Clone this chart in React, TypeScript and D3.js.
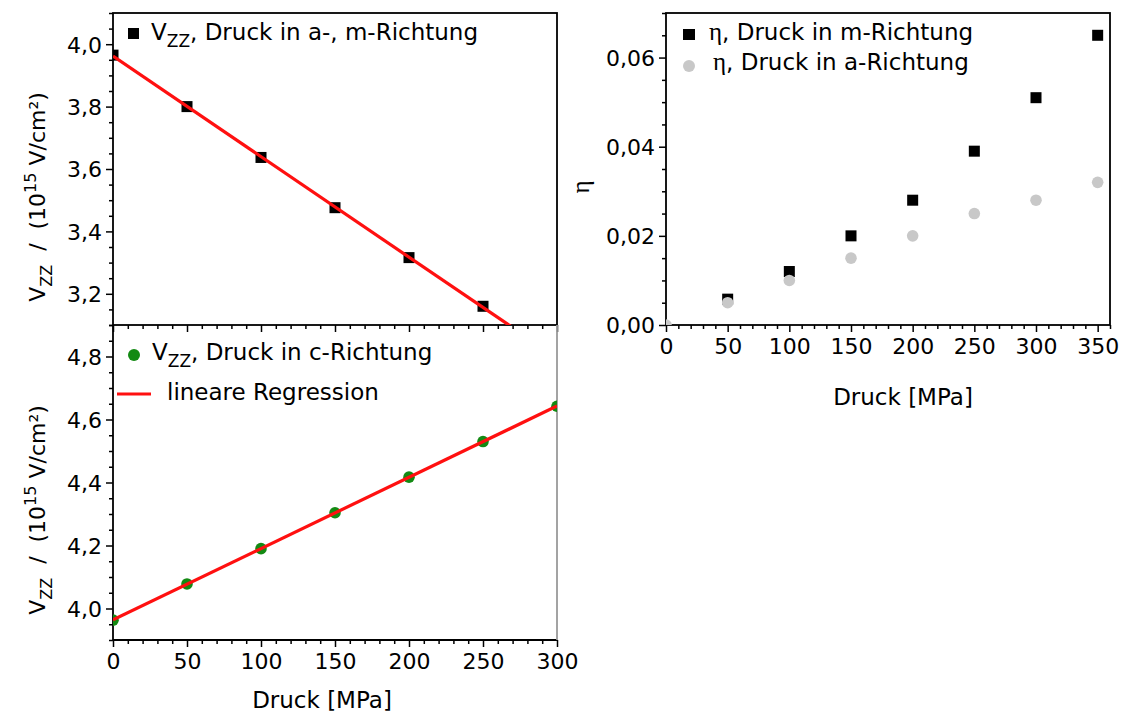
import React, { useRef, useEffect } from 'react';
import * as d3 from 'd3';

// Druck in a-, m-Richtung (Vzz)
const druckAM = [0, 50, 100, 150, 200, 250];
const vzzAM = [3.965, 3.8, 3.637, 3.476, 3.316, 3.16];
// Druck in c-Richtung (Vzz)
const druckC = [0, 50, 100, 150, 200, 250, 300];
const vzzC = [3.963, 4.078, 4.19, 4.304, 4.417, 4.53, 4.642];
// Asymmetrieparameter eta
const druckEtaM = [50, 100, 150, 200, 250, 300, 350];
const etaM = [0.0058, 0.012, 0.02, 0.028, 0.039, 0.051, 0.065];
const druckEtaA = [0, 50, 100, 150, 200, 250, 300, 350];
const etaA = [0, 0.005, 0.01, 0.015, 0.02, 0.025, 0.028, 0.032];

const leftXTicks = [0, 50, 100, 150, 200, 250, 300];
const rightXTicks = [0, 50, 100, 150, 200, 250, 300, 350];
const amYTicks = [3.2, 3.4, 3.6, 3.8, 4.0];
const cYTicks = [4.0, 4.2, 4.4, 4.6, 4.8];
const etaYTicks = [0, 0.02, 0.04, 0.06];

const FONT = '"DejaVu Sans", sans-serif';
const GREEN = '#138a13';
const RED = '#ff1010';
const GREY = '#c8c8c8';

// least squares fit -> [intercept, slope]
function linFit(xs: number[], ys: number[]): [number, number] {
  const mx = d3.mean(xs) as number;
  const my = d3.mean(ys) as number;
  let sxy = 0, sxx = 0;
  xs.forEach((x, i) => {
    sxy += (x - mx) * (ys[i] - my);
    sxx += (x - mx) * (x - mx);
  });
  const b = sxy / sxx;
  return [my - b * mx, b];
}

const comma = (f: string) => (v: any) => d3.format(f)(v).replace('.', ',');

const App = () => {
  const svgRef = useRef<SVGSVGElement>(null);

  useEffect(() => {
    const svg = d3.select(svgRef.current);
    svg.selectAll('*').remove();

    const xLeft = d3.scaleLinear().domain([0, 300]).range([113, 557]);
    const yAM = d3.scaleLinear().domain([3.1, 4.1]).range([325, 13]);
    const yC = d3.scaleLinear().domain([3.9, 4.9]).range([640, 325]);
    const xRight = d3.scaleLinear().domain([0, 360]).range([666, 1110]);
    const yEta = d3.scaleLinear().domain([0, 0.07]).range([325, 13]);

    const defs = svg.append('defs');
    const clip = (id: string, x: any, y: any) => {
      defs.append('clipPath').attr('id', id)
        .append('rect')
        .attr('x', x.range()[0]).attr('y', y.range()[1])
        .attr('width', x.range()[1] - x.range()[0])
        .attr('height', y.range()[0] - y.range()[1]);
    };
    clip('clipAM', xLeft, yAM);
    clip('clipC', xLeft, yC);
    clip('clipEta', xRight, yEta);

    const minorOf = (scale: any, n: number, major: number[]) =>
      scale.ticks(n).filter((t: number) => !major.some((m) => Math.abs(m - t) < 1e-9));

    const styleAxis = (g: any) => {
      g.selectAll('.tick line').attr('stroke', '#000').attr('stroke-width', 1.5);
      g.selectAll('.tick text').attr('fill', '#000').style('font-family', FONT).style('font-size', '22px');
      g.select('.domain').remove();
    };

    const yAxis = (scale: any, x: number, major: number[], n: number, fmt: any, labels = true) => {
      const g = svg.append('g').attr('transform', `translate(${x},0)`);
      g.call(d3.axisLeft(scale).tickValues(minorOf(scale, n, major)).tickSize(4).tickFormat(() => ''));
      styleAxis(g);
      const g2 = svg.append('g').attr('transform', `translate(${x},0)`);
      g2.call(d3.axisLeft(scale).tickValues(major).tickSize(7).tickPadding(4).tickFormat(labels ? fmt : () => ''));
      styleAxis(g2);
      g2.selectAll('.tick text').attr('dy', '0.36em');
    };

    const xAxis = (scale: any, y: number, major: number[], n: number, labels = true) => {
      const g = svg.append('g').attr('transform', `translate(0,${y})`);
      g.call(d3.axisBottom(scale).tickValues(minorOf(scale, n, major)).tickSize(4).tickFormat(() => ''));
      styleAxis(g);
      const g2 = svg.append('g').attr('transform', `translate(0,${y})`);
      g2.call(d3.axisBottom(scale).tickValues(major).tickSize(7).tickPadding(6).tickFormat(labels ? d3.format('d') : () => ''));
      styleAxis(g2);
    };

    // ---------- top-left panel ----------
    yAxis(yAM, 113, amYTicks, 20, comma('.1f'));
    xAxis(xLeft, 325, leftXTicks, 30, false);

    // ---------- bottom-left panel ----------
    yAxis(yC, 113, cYTicks, 20, comma('.1f'));
    xAxis(xLeft, 640, leftXTicks, 30, true);

    // ---------- right panel ----------
    yAxis(yEta, 666, etaYTicks, 14, comma('.2f'));
    xAxis(xRight, 325, rightXTicks, 36, true);

    // frames
    svg.append('rect')
      .attr('x', 113).attr('y', 13).attr('width', 444).attr('height', 312)
      .attr('fill', 'none').attr('stroke', '#000').attr('stroke-width', 1.8);
    svg.append('path')
      .attr('d', d3.line()([[113, 325], [113, 640], [557, 640]]))
      .attr('fill', 'none').attr('stroke', '#000').attr('stroke-width', 1.8);
    svg.append('line')
      .attr('x1', 557).attr('x2', 557).attr('y1', 325).attr('y2', 640)
      .attr('stroke', '#999').attr('stroke-width', 1.8);
    svg.append('rect')
      .attr('x', 666).attr('y', 13).attr('width', 444).attr('height', 312)
      .attr('fill', 'none').attr('stroke', '#000').attr('stroke-width', 1.8);

    // regression lines
    const fitLine = (xs: number[], ys: number[], y: any, clipId: string) => {
      const [a, b] = linFit(xs, ys);
      svg.append('path')
        .attr('clip-path', `url(#${clipId})`)
        .attr('d', d3.line<number>().x((d) => xLeft(d)).y((d) => y(a + b * d))(xLeft.domain()))
        .attr('fill', 'none').attr('stroke', RED).attr('stroke-width', 3.2);
    };

    // data top-left: squares
    svg.append('g').attr('clip-path', 'url(#clipAM)')
      .selectAll('rect').data(druckAM).join('rect')
      .attr('x', (d) => xLeft(d) - 5.5).attr('y', (d, i) => yAM(vzzAM[i]) - 5.5)
      .attr('width', 11).attr('height', 11).attr('fill', '#000');
    fitLine(druckAM, vzzAM, yAM, 'clipAM');

    // data bottom-left: green circles
    svg.append('g').attr('clip-path', 'url(#clipC)')
      .selectAll('circle').data(druckC).join('circle')
      .attr('cx', (d) => xLeft(d)).attr('cy', (d, i) => yC(vzzC[i]))
      .attr('r', 5.8).attr('fill', GREEN);
    fitLine(druckC, vzzC, yC, 'clipC');

    // data right: eta
    const gEta = svg.append('g').attr('clip-path', 'url(#clipEta)');
    gEta.selectAll('rect').data(druckEtaM).join('rect')
      .attr('x', (d) => xRight(d) - 5.5).attr('y', (d, i) => yEta(etaM[i]) - 5.5)
      .attr('width', 11).attr('height', 11).attr('fill', '#000');
    gEta.selectAll('circle').data(druckEtaA).join('circle')
      .attr('cx', (d) => xRight(d)).attr('cy', (d, i) => yEta(etaA[i]))
      .attr('r', 5.8).attr('fill', GREY);

    const txt = (x: number, y: number, anchor = 'start', size = 23) =>
      svg.append('text').attr('x', x).attr('y', y).attr('text-anchor', anchor)
        .style('font-family', FONT).style('font-size', `${size}px`).attr('fill', '#000');

    const vzz = (t: any, rest: string) => {
      t.append('tspan').text('V');
      t.append('tspan').attr('dy', 7).style('font-size', '17px').text('ZZ');
      t.append('tspan').attr('dy', -7).text(rest);
    };

    // legends
    svg.append('rect').attr('x', 128).attr('y', 28).attr('width', 11).attr('height', 11).attr('fill', '#000');
    vzz(txt(151, 40), ', Druck in a-, m-Richtung');

    svg.append('circle').attr('cx', 134).attr('cy', 355).attr('r', 6).attr('fill', GREEN);
    vzz(txt(152, 360), ', Druck in c-Richtung');
    svg.append('line').attr('x1', 117).attr('x2', 151).attr('y1', 394).attr('y2', 394)
      .attr('stroke', RED).attr('stroke-width', 3.2);
    txt(167, 400).text('lineare Regression');

    const eta = (t: any, rest: string) => {
      t.append('tspan').style('font-family', '"Liberation Serif", serif').style('font-size', '25px').text('η');
      t.append('tspan').text(rest);
    };
    svg.append('rect').attr('x', 683).attr('y', 29).attr('width', 12).attr('height', 11).attr('fill', '#000');
    eta(txt(709, 40), ', Druck in m-Richtung');
    svg.append('circle').attr('cx', 689).attr('cy', 66).attr('r', 6).attr('fill', GREY);
    eta(txt(713, 70), ', Druck in a-Richtung');

    // axis titles
    const yTitle = (cy: number) => {
      const t = txt(0, 0, 'middle', 22).attr('transform', `translate(45,${cy}) rotate(-90)`);
      t.append('tspan').text('V');
      t.append('tspan').attr('dy', 7).style('font-size', '16px').text('ZZ');
      t.append('tspan').attr('dy', -7).text('\u00a0\u00a0/\u00a0\u00a0(10');
      t.append('tspan').attr('dy', -9).style('font-size', '16px').text('15');
      t.append('tspan').attr('dy', 9).text(' V/cm²)');
    };
    yTitle(197);
    yTitle(510);

    txt(322, 708, 'middle').text('Druck [MPa]');
    txt(903, 405, 'middle').text('Druck [MPa]');
    txt(0, 0, 'middle', 25).attr('transform', 'translate(589,187) rotate(-90)')
      .style('font-family', '"Liberation Serif", serif').text('η');
  }, []);

  return (
    <svg
      ref={svgRef}
      width={1123}
      height={718}
      style={{ position: 'absolute', left: 0, top: 0, background: '#fff' }}
    />
  );
};

export default App;
